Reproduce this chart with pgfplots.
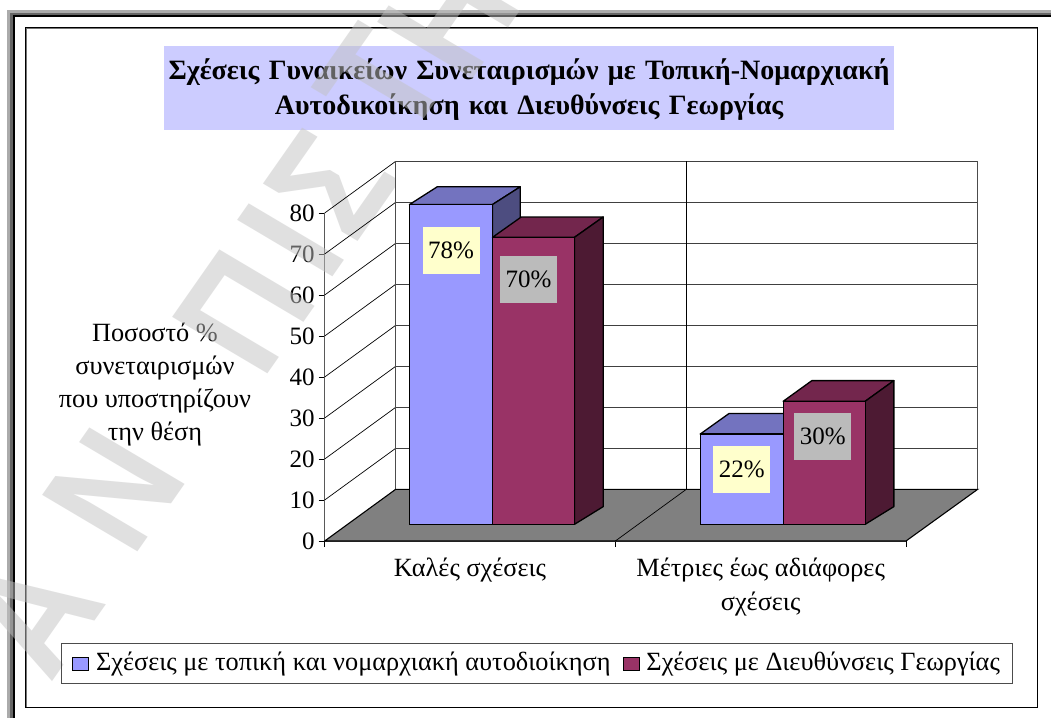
\documentclass[border=0pt]{standalone}
\usepackage{fontspec}
\setmainfont{Liberation Serif}
\newfontfamily\wmfont{Liberation Sans}
\usepackage{pgfplots}
\pgfplotsset{compat=1.18}

\definecolor{barblue}{HTML}{9999FF}
\definecolor{bluetop}{HTML}{7373BF}
\definecolor{blueside}{HTML}{4D4D80}
\definecolor{barred}{HTML}{993366}
\definecolor{redtop}{HTML}{73264D}
\definecolor{redside}{HTML}{4D1A33}
\definecolor{titlebox}{HTML}{CCCCFF}
\definecolor{labelcream}{HTML}{FFFFCC}
\definecolor{labelgray}{HTML}{BBBBBB}
\definecolor{floorgray}{HTML}{808080}

\newcommand\txt{\fontsize{25}{33}\selectfont}
\newcommand\lab{\fontsize{26.3}{34}\selectfont}

% one pt is one pixel of the reference, the axis box is the front plane
\pgfplotsset{chartbox/.style={
    scale only axis, width=581.3pt, height=328pt,
    at={(324.7pt,177pt)}, anchor=south west,
    xmin=0, xmax=2, ymin=0, ymax=80, clip=false}}

% watermark letter, x and y as read from the top left corner
\newcommand\wm[3]{\node[anchor=base west, inner sep=0pt, transform shape, text=black!24, opacity=.5,
    shift={(#1pt,{718pt-#2pt})}, cm={.803,1.147,-1.385,.821,(0,0)},
    font=\wmfont\bfseries\fontsize{100}{100}\selectfont] at (0,0) {#3};}

% top and side face of a bar, sitting on the bar plane
\newcommand\barfaces[9]{%
  \draw[fill=#8, line width=1.3pt, line join=round, shift={(22.5pt,16.7pt)}]
    (axis cs:#1,#3) -- ++(#4pt,#5pt) -- ++(#7pt,0pt) -- ([shift={(0pt,0pt)}]axis cs:#2,#3) -- cycle;
  \draw[fill=#9, line width=1.3pt, line join=round, shift={(22.5pt,16.7pt)}]
    (axis cs:#2,#3) -- ++(#4pt,#5pt) -- ([shift={(#4pt,#6pt)}]axis cs:#2,0) -- (axis cs:#2,0) -- cycle;}

\begin{document}
\begin{tikzpicture}[x=1pt,y=1pt]
\useasboundingbox (0,0) rectangle (1051,718);

% page band and chart frame
\fill[black!33] (7.3,0) rectangle (1051,708);
\fill[black!60] (10,0) rectangle (1051,705.3);
\fill[black] (13.3,0) rectangle (1051,703);
\fill[white] (15,0) rectangle (1051,701.3);
\draw[black!55, line width=1pt] (26,11) rectangle (1037.3,689.8);
\draw[black, line width=1.1pt] (25.5,10.5) rectangle (1037.8,690.5);

% title, ticks and their labels lie under the watermark
\begin{axis}[chartbox,
    axis lines*=left,
    axis line style={black!65, line width=.9pt},
    tick align=outside, tick pos=left, major tick length=6pt,
    tick style={black, line width=.7pt},
    ytick={0,10,...,80},
    xtick={0,1,2}, xticklabels={},
    extra x ticks={0.5,1.5},
    extra x tick labels={Καλές σχέσεις, {Μέτριες έως αδιάφορες\\σχέσεις}},
    extra x tick style={major tick length=0pt},
    tick label style={font=\txt},
    x tick label style={font=\lab, align=center, yshift=-13pt},
    y tick label style={inner sep=0pt, xshift=-4pt},
    /pgf/number format/assume math mode=true,
    ylabel={Ποσοστό \%\\συνεταιρισμών\\που υποστηρίζουν\\την θέση},
    ylabel style={rotate=-90, align=center, anchor=center, font=\fontsize{26.3}{33}\selectfont,
        at={(axis description cs:-0.292,0.476)}},
    title={\rule{0pt}{24pt}Σχέσεις Γυναικείων Συνεταιρισμών με Τοπική-Νομαρχιακή\\Αυτοδικοίκηση και Διευθύνσεις Γεωργίας},
    title style={at={(axis description cs:0.3515,1.3627)}, anchor=center, align=center,
        fill=titlebox, text width=730pt, minimum height=83.7pt, inner sep=0pt,
        font=\fontsize{28}{35}\selectfont\bfseries},
]
\end{axis}

\wm{50}{685}{Α}
\wm{132}{560}{Ν}
\wm{262}{382}{Π}
\wm{327}{285}{Ι}
\wm{354}{247}{Σ}
\wm{405}{146}{Τ}
\wm{467}{87}{Η}

\begin{axis}[chartbox, hide axis,
    legend columns=2,
    legend style={at={(axis description cs:-0.4542,-0.310)}, anchor=north west,
        draw=black!70, line width=.9pt, fill=none, font=\lab,
        inner xsep=11pt, inner ysep=6.5pt,
        /tikz/every odd column/.append style={column sep=4.7pt},
        /tikz/every even column/.append style={column sep=10pt}},
    legend cell align=left,
    legend image code/.code={\draw[#1,line width=1.2pt] (0pt,-25pt) rectangle (16pt,-12pt);
        \path (0pt,-31pt);},
]
% walls and floor
\fill[white] (axis cs:0,0) ++(71pt,51.7pt) rectangle ++(582pt,328pt);
\pgfplotsinvokeforeach{10,20,...,80}{
  \draw[black, line width=.7pt] (axis cs:0,#1) -- ++(71pt,51.7pt);
  \draw[black!75, line width=.8pt] (axis cs:0,#1) ++(71pt,51.7pt) -- ++(582pt,0pt);
}
\draw[black!75, line width=.8pt] (axis cs:0,80) ++(71pt,51.7pt) -- ++(582pt,0pt);
\draw[black!70, line width=.8pt] (axis cs:0,0) ++(71pt,51.7pt) -- ++(0pt,328pt);
\draw[black, line width=.8pt] (axis cs:1,0) ++(71pt,51.7pt) -- ++(0pt,328pt);
\draw[black!70, line width=.8pt] (axis cs:2,0) ++(71.7pt,51.7pt) -- ++(0pt,328pt);
\draw[fill=floorgray, line width=1.1pt] (axis cs:0,0) -- (axis cs:2,0) -- ++(71.7pt,51.7pt) -- ++(-582pt,0pt) -- cycle;
\draw[black, line width=.7pt] (axis cs:1,0) -- ++(71pt,51.7pt);

% bars, one table per series
\barfaces{0.2144}{0.5}{78}{27.7}{17.7}{17.7}{83}{bluetop}{blueside}
\barfaces{1.2144}{1.5}{22}{29}{20.7}{17.7}{83}{bluetop}{blueside}
\addplot[ybar, bar width=0.2856, bar shift=-0.1428, fill=barblue, draw=black, line width=1.3pt,
    xshift=22.5pt, yshift=16.7pt] coordinates {(0.5,78) (1.5,22)};
\addlegendentry{\raisebox{1pt}{Σχέσεις με τοπική και νομαρχιακή αυτοδιοίκηση}}

\barfaces{0.5}{0.7821}{70}{28.7}{20.3}{17.7}{82}{redtop}{redside}
\barfaces{1.5}{1.7821}{30}{28.7}{20.7}{17.7}{82}{redtop}{redside}
\addplot[ybar, bar width=0.2821, bar shift=0.1411, fill=barred, draw=black, line width=1.3pt,
    xshift=22.5pt, yshift=16.7pt] coordinates {(0.5,70) (1.5,30)};
\addlegendentry{\raisebox{1pt}{Σχέσεις με Διευθύνσεις Γεωργίας}}

% data labels
\node[fill=labelcream, minimum width=57pt, minimum height=47pt, inner sep=0pt, font=\txt]
    at (axis cs:0.3572,78) [xshift=22.5pt, yshift=-29.3pt] {78\%};
\node[fill=labelgray, minimum width=57pt, minimum height=47pt, inner sep=0pt, font=\txt]
    at (axis cs:0.6411,70) [xshift=17.5pt, yshift=-25.8pt] {70\%};
\node[fill=labelcream, minimum width=57pt, minimum height=47pt, inner sep=0pt, font=\txt]
    at (axis cs:1.3572,22) [xshift=22.5pt, yshift=-18.8pt] {22\%};
\node[fill=labelgray, minimum width=57pt, minimum height=47pt, inner sep=0pt, font=\txt]
    at (axis cs:1.6411,30) [xshift=21pt, yshift=-18.8pt] {30\%};
\end{axis}
\end{tikzpicture}
\end{document}
